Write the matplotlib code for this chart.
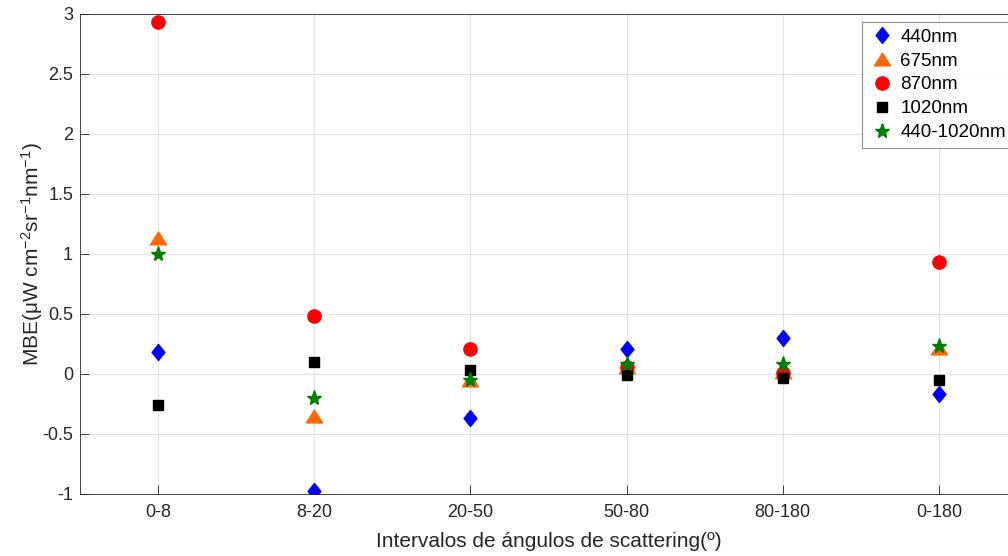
import numpy as np
import matplotlib
matplotlib.use("Agg")
import matplotlib.pyplot as plt
from matplotlib.path import Path
from matplotlib.ticker import FormatStrFormatter

plt.rcParams['font.family'] = ['Liberation Sans', 'DejaVu Sans']
plt.rcParams['mathtext.default'] = 'regular'
plt.rcParams['axes.unicode_minus'] = False

# Data
categories = ['0-8', '8-20', '20-50', '50-80', '80-180', '0-180']
mbe_440 = [0.18, -0.975, -0.37, 0.21, 0.30, -0.17]
mbe_675 = [1.13, -0.35, -0.05, 0.06, 0.02, 0.22]
mbe_870 = [2.93, 0.48, 0.21, 0.06, 0.01, 0.93]
mbe_1020 = [-0.26, 0.10, 0.03, -0.01, -0.03, -0.05]
mbe_all = [1.0, -0.20, -0.05, 0.08, 0.08, 0.23]

TXT = (0.15, 0.15, 0.15)

# MATLAB-like marker shapes
diamond = Path([(0, 1), (0.8, 0), (0, -1), (-0.8, 0), (0, 1)],
               [Path.MOVETO, Path.LINETO, Path.LINETO, Path.LINETO, Path.CLOSEPOLY])
triangle = Path([(0, 0.8), (-1, -0.8), (1, -0.8), (0, 0.8)],
                [Path.MOVETO, Path.LINETO, Path.LINETO, Path.CLOSEPOLY])

series = [
    (mbe_440, '440nm', diamond, 11.5, (0, 0, 1)),
    (mbe_675, '675nm', triangle, 11.5, (1, 0.4, 0)),
    (mbe_870, '870nm', 'o', 9.5, (1, 0, 0)),
    (mbe_1020, '1020nm', 's', 7.5, (0, 0, 0)),
    (mbe_all, '440-1020nm', '*', 11, (0, 0.5, 0)),
]

fig = plt.figure(figsize=(10.08, 5.56), dpi=100)
ax = fig.add_axes([80 / 1008, 62 / 556, 937 / 1008, 480 / 556])

x = np.arange(1, len(categories) + 1)
for vals, label, mk, ms, col in series:
    ax.plot(x, vals, linestyle='none', marker=mk, markersize=ms,
            color=col, markeredgecolor=col, label=label)

ax.set_xlim(0.5, len(categories) + 0.5)
ax.set_ylim(-1, 3)
ax.set_xticks(x)
ax.set_xticklabels(categories)
ax.set_yticks(np.arange(-1, 3.01, 0.5))
ax.yaxis.set_major_formatter(FormatStrFormatter('%g'))

ax.grid(True, color=(0.15, 0.15, 0.15), alpha=0.12, linewidth=0.8)
ax.set_axisbelow(True)
for s in ax.spines.values():
    s.set_color(TXT)
    s.set_linewidth(0.6)
ax.tick_params(direction='in', length=6.5, width=0.6, colors=TXT,
               labelsize=13, top=False, right=False)
ax.tick_params(axis='x', pad=7)
ax.tick_params(axis='y', pad=5)

ax.set_xlabel('Intervalos de ángulos de scattering(º)', fontsize=15, color=TXT, labelpad=8)
ax.set_ylabel('MBE(μW cm$^{-2}$sr$^{-1}$nm$^{-1}$)', fontsize=15, color=TXT, labelpad=-2)

leg = fig.legend(loc='upper left', bbox_to_anchor=(862 / 1008, 1 - 22 / 556),
                 bbox_transform=fig.transFigure, borderaxespad=0,
                 fontsize=13.5, frameon=True, fancybox=False, handletextpad=0.3,
                 handlelength=1.4, labelspacing=0.36, borderpad=0.35)
leg.get_frame().set_edgecolor((0.45, 0.45, 0.45))
leg.get_frame().set_linewidth(0.8)
for t in leg.get_texts():
    t.set_color('black')

fig.savefig('out.png', dpi=100)
